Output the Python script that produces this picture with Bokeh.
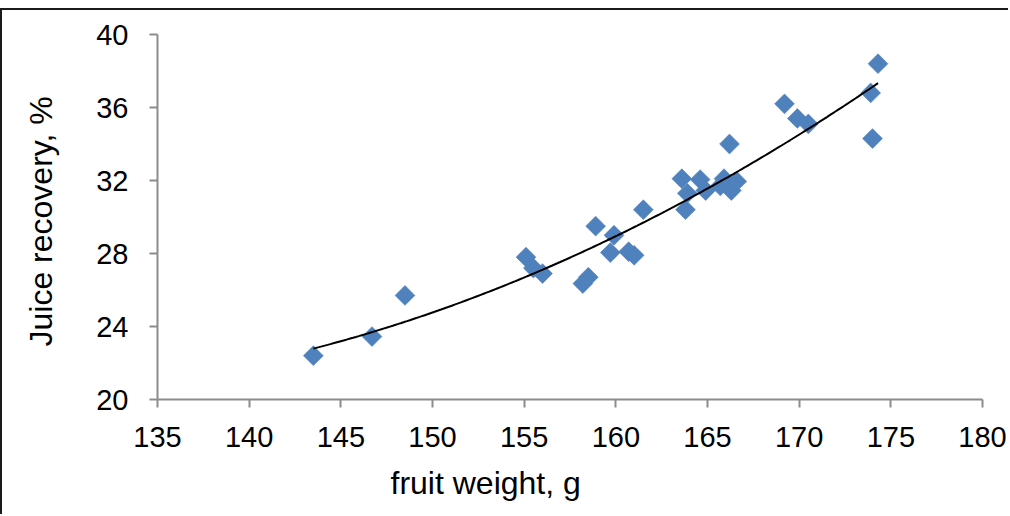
import numpy as np
from bokeh.plotting import figure
from bokeh.models import Range1d, FixedTicker, Title
from bokeh.embed import file_html
from bokeh.resources import INLINE

# data
fruit_weight = [143.5, 146.7, 148.5, 155.1, 155.5, 156.0, 158.2, 158.5, 158.9, 159.9,
                159.7, 160.7, 161.0, 161.5, 163.6, 163.9, 163.8, 164.6, 164.9, 165.7,
                165.9, 166.1, 166.2, 166.3, 166.6, 169.2, 169.9, 170.5, 173.9, 174.0, 174.3]
juice_recovery = [22.4, 23.45, 25.7, 27.8, 27.2, 26.9, 26.35, 26.7, 29.5, 29.0,
                  28.05, 28.1, 27.9, 30.4, 32.1, 31.3, 30.4, 32.05, 31.45, 31.7,
                  32.1, 31.7, 34.0, 31.45, 31.95, 36.2, 35.4, 35.1, 36.8, 34.3, 38.4]
x_ticks = [135, 140, 145, 150, 155, 160, 165, 170, 175, 180]
y_ticks = [20, 24, 28, 32, 36, 40]

FONT = "Liberation Sans"

p = figure(width=1008, height=506, output_backend="svg", toolbar_location=None,
           x_range=Range1d(135, 180), y_range=Range1d(20, 40),
           min_border_left=155, min_border_right=28, min_border_top=24, min_border_bottom=117)
p.outline_line_color = None
p.xgrid.visible = False
p.ygrid.visible = False
p.styles = {"border-top": "2px solid #1a1a1a", "border-left": "2px solid #1a1a1a",
            "margin-top": "8px"}

# polynomial (2nd order) trendline fitted to the data
coef = np.polyfit(fruit_weight, juice_recovery, 2)
tx = np.linspace(min(fruit_weight), max(fruit_weight), 200)
ty = np.polyval(coef, tx)

p.scatter(fruit_weight, juice_recovery, marker="square", size=14, angle=np.pi / 4,
          fill_color="#4F81BD", line_color="#4F81BD", line_alpha=0.6)
p.line(tx, ty, line_color="black", line_width=2)

for ax in (p.xaxis[0], p.yaxis[0]):
    ax.axis_line_color = "#8c8c8c"
    ax.axis_line_width = 2
    ax.major_tick_line_color = "#8c8c8c"
    ax.major_tick_line_width = 2
    ax.major_tick_in = 0
    ax.major_tick_out = 8
    ax.minor_tick_in = 0
    ax.minor_tick_out = 0
    ax.major_label_text_font = FONT
    ax.major_label_text_font_size = "29px"
    ax.major_label_text_color = "black"

p.xaxis.ticker = FixedTicker(ticks=x_ticks)
p.yaxis.ticker = FixedTicker(ticks=y_ticks)
p.xaxis.major_label_standoff = 19
p.yaxis.major_label_standoff = 21

p.yaxis.axis_label = "Juice recovery,  %"
p.yaxis.axis_label_text_font = FONT
p.yaxis.axis_label_text_font_size = "32px"
p.yaxis.axis_label_text_font_style = "normal"
p.yaxis.axis_label_text_color = "black"
p.yaxis.axis_label_standoff = 34

p.add_layout(Title(text="fruit weight, g", text_font=FONT, text_font_size="32px",
                   text_font_style="normal", text_color="black",
                   align="left", offset=233, standoff=26), "below")

open("out.html", "w").write(file_html(p, INLINE))
